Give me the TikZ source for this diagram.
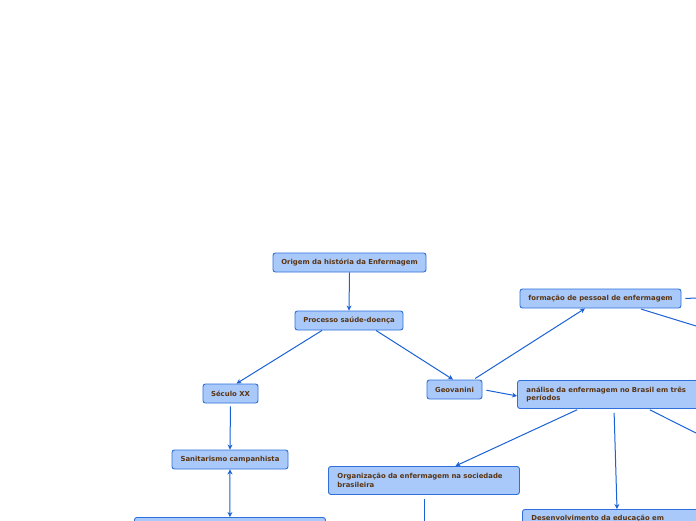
\documentclass[tikz,border=0pt]{standalone}
\usepackage{fontspec}
\setmainfont{DejaVu Sans}
\usetikzlibrary{arrows.meta}
\definecolor{boxfill}{HTML}{A8C9FA}
\definecolor{boxline}{HTML}{2F6FDB}
\definecolor{txt}{HTML}{5A3412}
\definecolor{conn}{HTML}{1A62D6}
\tikzset{
  topic/.style={draw=boxline, fill=boxfill, rounded corners=2.5pt, line width=0.9pt,
    font=\bfseries\fontsize{6.9}{8.6}\selectfont, text=txt, inner sep=0pt, minimum height=19pt},
  widetopic/.style={topic, anchor=north west, align=left, inner xsep=9pt, inner ysep=5pt},
  conline/.style={draw=conn, line width=1pt},
  arr/.style={conline, -{Stealth[length=5pt,width=5pt]}},
  darr/.style={conline, {Stealth[length=5pt,width=5pt]}-{Stealth[length=5pt,width=5pt]}}
}
\begin{document}
\begin{tikzpicture}[x=1pt,y=-1pt]
\useasboundingbox (0,0) rectangle (696,520);
\clip (0,0) rectangle (696,520);
\fill[white] (0,0) rectangle (696,520);

\node[topic, minimum width=153pt] (o) at (349.5,262.5) {Origem da história da Enfermagem};
\node[topic, minimum width=108pt] (p) at (349,320.5) {Processo saúde-doença};
\node[topic, minimum width=55pt] (s) at (230.5,393.5) {Século XX};
\node[topic, minimum width=116pt] (san) at (230,459.5) {Sanitarismo campanhista};
\node[topic, anchor=north west, minimum width=191pt, minimum height=30pt] (bl) at (134,517) {};
\node[topic, minimum width=55pt] (g) at (454.5,389.5) {Geovanini};
\node[topic, minimum width=161pt] (f) at (600.5,298.5) {formação de pessoal de enfermagem};
\node[widetopic, minimum width=200pt, minimum height=28pt, text width=182pt] (a) at (517,380)
  {análise da enfermagem no Brasil em três\\períodos};
\node[widetopic, minimum width=191pt, minimum height=28pt, text width=173pt] (org) at (328,466)
  {Organização da enfermagem na sociedade\\brasileira};
\node[widetopic, minimum width=200pt, minimum height=0pt, text width=182pt, inner ysep=5.5pt] (d) at (522,509)
  {Desenvolvimento da educação em};

\coordinate (f1) at (700,298);
\coordinate (f2) at (700,327.2);
\coordinate (a1) at (700,435);
\coordinate (org1) at (424,525);

\draw[arr] (o.south) -- (p.north);
\draw[arr] ([xshift=-27pt]p.south) -- ([xshift=6pt]s.north);
\draw[arr] ([xshift=27pt]p.south) -- ([xshift=-1.5pt]g.north);
\draw[arr, shorten <=3pt] (s.south) -- (san.north);
\draw[darr] (san.south) -- (bl.north);
\draw[arr, shorten <=2pt] ([xshift=19pt]g.north) -- ([xshift=-15.5pt]f.south);
\draw[arr, shorten <=4pt] (g.east) -- ([yshift=-1.5pt]a.west);
\draw[conline, shorten <=4pt] (f.east) -- (f1);
\draw[conline, shorten <=2pt] ([xshift=38.5pt]f.south) -- (f2);
\draw[arr, shorten <=2pt] ([xshift=62pt]a.south west) -- ([xshift=31.5pt]org.north);
\draw[arr, shorten <=4pt] ([xshift=97pt]a.south west) -- ([xshift=95pt]d.north west);
\draw[conline, shorten <=2pt] ([xshift=131pt]a.south west) -- (a1);
\draw[conline, shorten <=4pt] ([xshift=96pt]org.south west) -- (org1);
\end{tikzpicture}
\end{document}
